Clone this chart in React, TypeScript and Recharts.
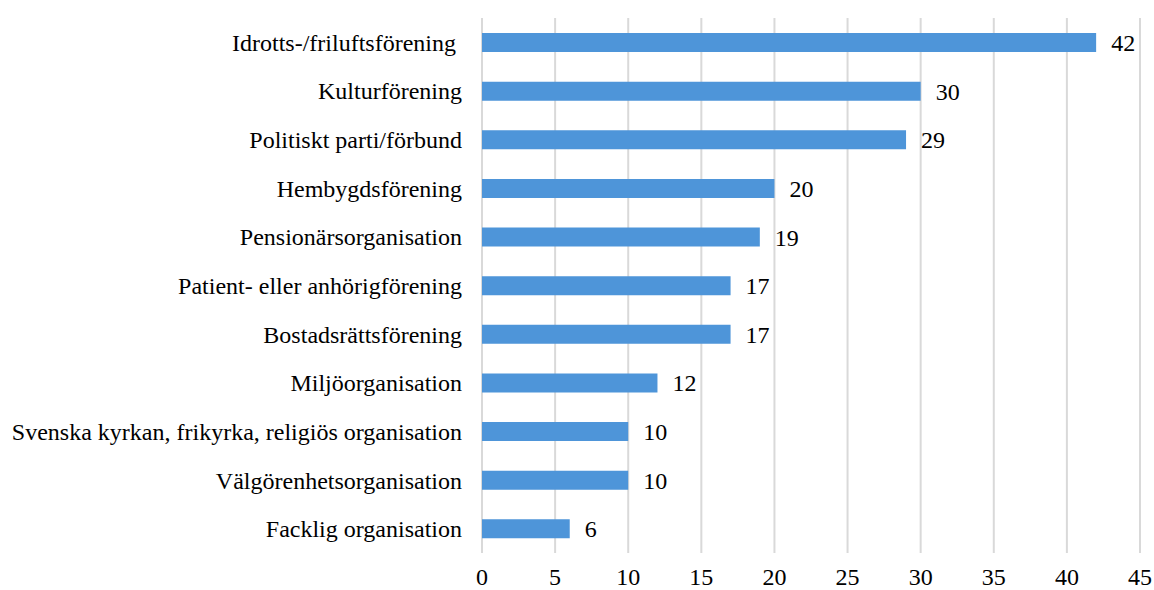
import { Bar, BarChart, CartesianGrid, LabelList, XAxis, YAxis } from "recharts";

const categories = [
  "Idrotts-/friluftsförening\u00A0",
  "Kulturförening",
  "Politiskt parti/förbund",
  "Hembygdsförening",
  "Pensionärsorganisation",
  "Patient- eller anhörigförening",
  "Bostadsrättsförening",
  "Miljöorganisation",
  "Svenska kyrkan, frikyrka, religiös organisation",
  "Välgörenhetsorganisation",
  "Facklig organisation",
];

const values = [42, 30, 29, 20, 19, 17, 17, 12, 10, 10, 6];

const xTicks = [0, 5, 10, 15, 20, 25, 30, 35, 40, 45];

const data = categories.map((name, i) => ({ name, value: values[i] }));

const font = "'Liberation Serif', 'Times New Roman', serif";

export default function App() {
  return (
    <div style={{ width: 1154, height: 590, fontFamily: font, background: "#fff" }}>
      <style>{"html,body{margin:0;padding:0;overflow:hidden;}"}</style>
      <BarChart
        width={1154}
        height={590}
        data={data}
        layout="vertical"
        margin={{ top: 18, right: 14, bottom: 0, left: 0 }}
        barCategoryGap={0}
      >
        <CartesianGrid horizontal={false} stroke="#d9d9d9" strokeWidth={2} />
        <XAxis
          type="number"
          domain={[0, 45]}
          ticks={xTicks}
          axisLine={false}
          tickLine={false}
          tickSize={0}
          tickMargin={15}
          height={37}
          tick={{ fill: "#000", fontSize: 24, fontFamily: font }}
        />
        <YAxis
          type="category"
          dataKey="name"
          width={482}
          axisLine={false}
          tickLine={false}
          tickSize={0}
          tickMargin={20}
          interval={0}
          tick={{ fill: "#000", fontSize: 24, fontFamily: font }}
        />
        <Bar dataKey="value" fill="#4e95d9" barSize={19} isAnimationActive={false}>
          <LabelList
            dataKey="value"
            position="right"
            offset={15}
            style={{ fill: "#000", fontSize: 24, fontFamily: font }}
          />
        </Bar>
      </BarChart>
    </div>
  );
}
